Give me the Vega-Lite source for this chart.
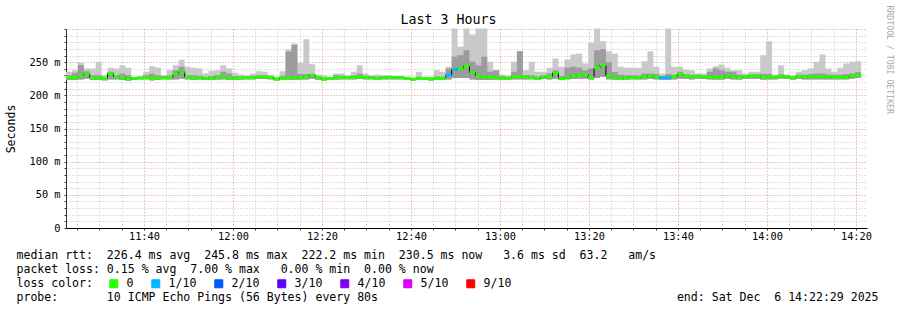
{
"$schema": "https://vega.github.io/schema/vega-lite/v6.json",
"width": 801, "height": 199,
"autosize": {"type": "none"},
"padding": {"left": 66, "top": 29, "right": 30, "bottom": 82},
"background": "white",
"config": {"view": {"stroke": null}, "font": "DejaVu Sans Mono"},
"title": {"text": "Last 3 Hours", "font": "DejaVu Sans Mono", "fontSize": 13.3, "fontWeight": "normal", "color": "#000", "anchor": "middle", "frame": "group", "dx": -18, "dy": 24, "offset": 3},
"data": {"format": {"parse": {"t": "date:'%H:%M:%S'"}}, "values": [
{"t":"11:22:29","lo":223,"dk":230.4,"hi":235.4,"med":226.9,"loss":"0"},
{"t":"11:23:49","lo":223,"dk":233.9,"hi":237.9,"med":226.9,"loss":"0"},
{"t":"11:25:09","lo":224,"dk":245.5,"hi":249,"med":229.4,"loss":"0"},
{"t":"11:26:29","lo":225,"dk":236.4,"hi":240.4,"med":232.4,"loss":"0"},
{"t":"11:27:49","lo":223,"dk":230.4,"hi":240.4,"med":226.4,"loss":"0"},
{"t":"11:29:09","lo":223,"dk":230.4,"hi":250.5,"med":226.4,"loss":"0"},
{"t":"11:30:29","lo":222.5,"dk":228,"hi":230.4,"med":225.4,"loss":"0"},
{"t":"11:31:49","lo":224,"dk":235.4,"hi":241.5,"med":232.9,"loss":"0"},
{"t":"11:33:09","lo":224,"dk":230.4,"hi":240.4,"med":227.9,"loss":"0"},
{"t":"11:34:29","lo":223,"dk":232.9,"hi":245.5,"med":226.9,"loss":"0"},
{"t":"11:35:49","lo":222,"dk":230.4,"hi":241.5,"med":224.4,"loss":"0"},
{"t":"11:37:09","lo":223,"dk":227,"hi":227.9,"med":225.4,"loss":"0"},
{"t":"11:38:29","lo":224,"dk":227,"hi":227.9,"med":226.4,"loss":"0"},
{"t":"11:39:49","lo":224,"dk":230.4,"hi":235.4,"med":226.9,"loss":"0"},
{"t":"11:41:09","lo":222.5,"dk":232.9,"hi":244,"med":225.4,"loss":"0"},
{"t":"11:42:29","lo":223,"dk":230.4,"hi":242,"med":226.4,"loss":"0"},
{"t":"11:43:49","lo":224,"dk":229,"hi":230.4,"med":226.9,"loss":"0"},
{"t":"11:45:09","lo":224,"dk":230,"hi":237.9,"med":226.4,"loss":"0"},
{"t":"11:46:29","lo":224,"dk":237.9,"hi":245.5,"med":231.4,"loss":"0"},
{"t":"11:47:49","lo":225,"dk":243,"hi":253.5,"med":235.4,"loss":"0"},
{"t":"11:49:09","lo":224,"dk":230.4,"hi":243,"med":227.4,"loss":"0"},
{"t":"11:50:29","lo":223,"dk":230.4,"hi":241.5,"med":226.9,"loss":"0"},
{"t":"11:51:49","lo":223.5,"dk":229.5,"hi":240.4,"med":226.9,"loss":"0"},
{"t":"11:53:09","lo":223,"dk":228,"hi":232.9,"med":225.4,"loss":"0"},
{"t":"11:54:29","lo":223,"dk":229,"hi":236.9,"med":225.4,"loss":"0"},
{"t":"11:55:49","lo":223.5,"dk":230.4,"hi":237.9,"med":227.4,"loss":"0"},
{"t":"11:57:09","lo":224,"dk":235.4,"hi":245.5,"med":227.9,"loss":"0"},
{"t":"11:58:29","lo":223,"dk":232.9,"hi":240.4,"med":226.4,"loss":"0"},
{"t":"11:59:49","lo":223,"dk":229,"hi":233.9,"med":225.4,"loss":"0"},
{"t":"12:01:09","lo":223.5,"dk":229,"hi":231.4,"med":226.4,"loss":"0"},
{"t":"12:02:29","lo":224,"dk":229,"hi":230.4,"med":226.9,"loss":"0"},
{"t":"12:03:49","lo":224,"dk":229.5,"hi":232.9,"med":226.9,"loss":"0"},
{"t":"12:05:09","lo":224.5,"dk":230.4,"hi":236.4,"med":227.9,"loss":"0"},
{"t":"12:06:29","lo":224.5,"dk":230.4,"hi":235.4,"med":227.9,"loss":"0"},
{"t":"12:07:49","lo":224,"dk":229,"hi":231.4,"med":226.9,"loss":"0"},
{"t":"12:09:09","lo":222.2,"dk":226.5,"hi":227.9,"med":224.4,"loss":"0"},
{"t":"12:10:29","lo":223.5,"dk":229.5,"hi":236.4,"med":226.4,"loss":"0"},
{"t":"12:11:49","lo":223.5,"dk":266,"hi":269.6,"med":226.9,"loss":"0"},
{"t":"12:13:09","lo":223,"dk":276,"hi":278.1,"med":226.4,"loss":"0"},
{"t":"12:14:29","lo":223.5,"dk":232,"hi":249,"med":226.9,"loss":"0"},
{"t":"12:15:49","lo":224,"dk":232,"hi":284.6,"med":227.9,"loss":"0"},
{"t":"12:17:09","lo":225,"dk":232,"hi":247,"med":230.4,"loss":"0"},
{"t":"12:18:29","lo":223,"dk":229,"hi":231.4,"med":226.9,"loss":"0"},
{"t":"12:19:49","lo":222.3,"dk":227,"hi":230.4,"med":224.4,"loss":"0"},
{"t":"12:21:09","lo":223,"dk":227,"hi":227.9,"med":225.4,"loss":"0"},
{"t":"12:22:29","lo":223.5,"dk":230.4,"hi":232.9,"med":226.9,"loss":"0"},
{"t":"12:23:49","lo":224,"dk":229.5,"hi":232.9,"med":226.9,"loss":"0"},
{"t":"12:25:09","lo":224,"dk":229,"hi":230.4,"med":226.9,"loss":"0"},
{"t":"12:26:29","lo":224,"dk":230,"hi":235.4,"med":226.9,"loss":"0"},
{"t":"12:27:49","lo":224.5,"dk":232.9,"hi":245.5,"med":227.9,"loss":"0"},
{"t":"12:29:09","lo":224,"dk":229.5,"hi":232.9,"med":226.9,"loss":"0"},
{"t":"12:30:29","lo":224,"dk":229,"hi":230.4,"med":226.9,"loss":"0"},
{"t":"12:31:49","lo":223,"dk":228,"hi":231.4,"med":225.4,"loss":"0"},
{"t":"12:33:09","lo":224,"dk":229,"hi":230.4,"med":226.9,"loss":"0"},
{"t":"12:34:29","lo":224,"dk":228.5,"hi":230.4,"med":226.9,"loss":"0"},
{"t":"12:35:49","lo":224,"dk":228.5,"hi":229.4,"med":226.9,"loss":"0"},
{"t":"12:37:09","lo":224,"dk":227.5,"hi":227.9,"med":226.9,"loss":"0"},
{"t":"12:38:29","lo":223,"dk":227,"hi":227.9,"med":225.4,"loss":"0"},
{"t":"12:39:49","lo":222.4,"dk":225.5,"hi":226.4,"med":224.4,"loss":"0"},
{"t":"12:41:09","lo":223,"dk":228,"hi":235.4,"med":225.4,"loss":"0"},
{"t":"12:42:29","lo":223,"dk":227,"hi":227.9,"med":225.4,"loss":"0"},
{"t":"12:43:49","lo":222.5,"dk":226.5,"hi":227.9,"med":224.4,"loss":"0"},
{"t":"12:45:09","lo":223,"dk":228.5,"hi":237.9,"med":225.4,"loss":"0"},
{"t":"12:46:29","lo":223,"dk":228,"hi":235.4,"med":225.4,"loss":"0"},
{"t":"12:47:49","lo":224,"dk":240.4,"hi":243,"med":230.4,"loss":"1/10"},
{"t":"12:49:09","lo":226,"dk":258,"hi":300.7,"med":238.9,"loss":"1/10"},
{"t":"12:50:29","lo":226,"dk":260.5,"hi":273.1,"med":240.4,"loss":"0"},
{"t":"12:51:49","lo":226,"dk":268.1,"hi":300.7,"med":244.5,"loss":"0"},
{"t":"12:53:09","lo":224,"dk":250.5,"hi":291.6,"med":234.4,"loss":"0"},
{"t":"12:54:29","lo":223,"dk":245.5,"hi":300.7,"med":228.9,"loss":"0"},
{"t":"12:55:49","lo":223,"dk":258,"hi":300.7,"med":227.9,"loss":"0"},
{"t":"12:57:09","lo":223,"dk":235.4,"hi":250.5,"med":226.9,"loss":"0"},
{"t":"12:58:29","lo":223.5,"dk":237.9,"hi":237.9,"med":226.9,"loss":"0"},
{"t":"12:59:49","lo":223.5,"dk":229,"hi":231.4,"med":226.4,"loss":"0"},
{"t":"13:01:09","lo":223,"dk":228,"hi":230.4,"med":225.4,"loss":"0"},
{"t":"13:02:29","lo":224,"dk":235.4,"hi":250.5,"med":228.4,"loss":"0"},
{"t":"13:03:49","lo":224,"dk":266.5,"hi":266.5,"med":226.9,"loss":"0"},
{"t":"13:05:09","lo":224,"dk":230.4,"hi":237.9,"med":227.9,"loss":"0"},
{"t":"13:06:29","lo":224,"dk":230.4,"hi":250.5,"med":226.9,"loss":"0"},
{"t":"13:07:49","lo":223,"dk":228.5,"hi":235.4,"med":225.4,"loss":"0"},
{"t":"13:09:09","lo":224.5,"dk":230.4,"hi":235.4,"med":227.9,"loss":"0"},
{"t":"13:10:29","lo":224,"dk":232.9,"hi":241.5,"med":227.9,"loss":"0"},
{"t":"13:11:49","lo":225,"dk":237.9,"hi":255.5,"med":233.9,"loss":"0"},
{"t":"13:13:09","lo":223,"dk":229,"hi":243,"med":225.4,"loss":"0"},
{"t":"13:14:29","lo":224,"dk":241.5,"hi":254,"med":226.9,"loss":"0"},
{"t":"13:15:49","lo":224.5,"dk":243,"hi":261.5,"med":228.9,"loss":"0"},
{"t":"13:17:09","lo":225,"dk":241.5,"hi":263,"med":230.4,"loss":"0"},
{"t":"13:18:29","lo":225,"dk":237.9,"hi":248,"med":231.4,"loss":"0"},
{"t":"13:19:49","lo":223.5,"dk":240.4,"hi":279.6,"med":226.9,"loss":"0"},
{"t":"13:21:09","lo":226,"dk":268.1,"hi":300.7,"med":241.4,"loss":"0"},
{"t":"13:22:29","lo":228,"dk":269.6,"hi":281.6,"med":245.8,"loss":"0"},
{"t":"13:23:49","lo":224,"dk":250,"hi":266.5,"med":228.9,"loss":"0"},
{"t":"13:25:09","lo":223.5,"dk":235,"hi":263,"med":226.4,"loss":"0"},
{"t":"13:26:29","lo":223,"dk":231,"hi":243,"med":225.4,"loss":"0"},
{"t":"13:27:49","lo":223.5,"dk":230.4,"hi":241.5,"med":226.4,"loss":"0"},
{"t":"13:29:09","lo":224,"dk":230.4,"hi":241.5,"med":226.9,"loss":"0"},
{"t":"13:30:29","lo":224,"dk":230,"hi":241.5,"med":226.4,"loss":"0"},
{"t":"13:31:49","lo":224,"dk":233,"hi":251.5,"med":227.9,"loss":"0"},
{"t":"13:33:09","lo":224.5,"dk":233,"hi":266.5,"med":229.4,"loss":"0"},
{"t":"13:34:29","lo":224,"dk":232,"hi":243,"med":227.9,"loss":"0"},
{"t":"13:35:49","lo":223.5,"dk":229,"hi":232.9,"med":226.4,"loss":"1/10"},
{"t":"13:37:09","lo":223.5,"dk":232,"hi":300.7,"med":226.4,"loss":"1/10"},
{"t":"13:38:29","lo":224,"dk":231,"hi":243,"med":227.9,"loss":"0"},
{"t":"13:39:49","lo":225,"dk":235.4,"hi":243,"med":231.9,"loss":"0"},
{"t":"13:41:09","lo":224.5,"dk":232,"hi":239,"med":229.4,"loss":"0"},
{"t":"13:42:29","lo":224,"dk":231,"hi":237.9,"med":227.9,"loss":"0"},
{"t":"13:43:49","lo":225,"dk":230.4,"hi":232.9,"med":228.9,"loss":"0"},
{"t":"13:45:09","lo":224.5,"dk":230,"hi":232.9,"med":227.9,"loss":"0"},
{"t":"13:46:29","lo":224,"dk":235.4,"hi":240.4,"med":227.9,"loss":"0"},
{"t":"13:47:49","lo":223.5,"dk":240.4,"hi":244,"med":226.9,"loss":"0"},
{"t":"13:49:09","lo":223.5,"dk":237.9,"hi":246.5,"med":226.9,"loss":"0"},
{"t":"13:50:29","lo":224.5,"dk":235.4,"hi":241.5,"med":229.4,"loss":"0"},
{"t":"13:51:49","lo":224,"dk":235.4,"hi":237.9,"med":227.9,"loss":"0"},
{"t":"13:53:09","lo":223.5,"dk":231,"hi":237.9,"med":226.9,"loss":"0"},
{"t":"13:54:29","lo":224.5,"dk":230,"hi":232.9,"med":227.9,"loss":"0"},
{"t":"13:55:49","lo":225,"dk":231.5,"hi":235.4,"med":229.4,"loss":"0"},
{"t":"13:57:09","lo":225,"dk":231.5,"hi":235.4,"med":229.4,"loss":"0"},
{"t":"13:58:29","lo":223.5,"dk":232,"hi":260.5,"med":226.9,"loss":"0"},
{"t":"13:59:49","lo":224,"dk":232,"hi":281.6,"med":227.9,"loss":"0"},
{"t":"14:01:09","lo":224,"dk":229.5,"hi":231.4,"med":226.9,"loss":"0"},
{"t":"14:02:29","lo":225,"dk":231,"hi":245.5,"med":229.4,"loss":"0"},
{"t":"14:03:49","lo":224.5,"dk":229.5,"hi":231.4,"med":227.9,"loss":"0"},
{"t":"14:05:09","lo":223.5,"dk":228.5,"hi":229.4,"med":226.4,"loss":"0"},
{"t":"14:06:29","lo":224.5,"dk":231,"hi":235.4,"med":228.9,"loss":"0"},
{"t":"14:07:49","lo":224,"dk":231,"hi":237.9,"med":227.9,"loss":"0"},
{"t":"14:09:09","lo":224,"dk":232,"hi":240.4,"med":227.9,"loss":"0"},
{"t":"14:10:29","lo":224,"dk":233,"hi":250.5,"med":227.9,"loss":"0"},
{"t":"14:11:49","lo":224,"dk":233,"hi":261.5,"med":227.9,"loss":"0"},
{"t":"14:13:09","lo":224,"dk":231.5,"hi":240.4,"med":227.9,"loss":"0"},
{"t":"14:14:29","lo":224,"dk":231,"hi":235.4,"med":227.9,"loss":"0"},
{"t":"14:15:49","lo":224,"dk":231,"hi":241.5,"med":226.9,"loss":"0"},
{"t":"14:17:09","lo":224,"dk":232,"hi":248,"med":226.9,"loss":"0"},
{"t":"14:18:29","lo":225,"dk":233,"hi":250.5,"med":229.4,"loss":"0"},
{"t":"14:19:49","lo":226,"dk":235,"hi":251.5,"med":230.5,"loss":"0"},
{"t":"14:21:09","lo":226,"dk":235,"hi":251.5,"med":230.5,"loss":"0"}
]},
"layer": [
{"mark": {"type": "area", "interpolate": "step-after", "color": "#c9c9c9", "opacity": 1},
 "encoding": {
  "x": {"field": "t", "type": "temporal",
   "scale": {"domain": [{"year":1900,"month":1,"date":1,"hours":11,"minutes":22,"seconds":29},{"year":1900,"month":1,"date":1,"hours":14,"minutes":22,"seconds":29}], "nice": false},
   "axis": {
    "title": ["median rtt:\u00a0\u00a0226.4 ms avg\u00a0\u00a0245.8 ms max\u00a0\u00a0222.2 ms min\u00a0\u00a0230.5 ms now\u00a0\u00a0\u00a03.6 ms sd\u00a0\u00a063.2\u00a0\u00a0\u00a0am/s",
              "packet loss: 0.15 % avg\u00a0\u00a07.00 % max\u00a0\u00a0\u00a00.00 % min\u00a0\u00a00.00 % now",
              "loss color:",
              "probe:\u00a0\u00a0\u00a0\u00a0\u00a0\u00a0\u00a010 ICMP Echo Pings (56 Bytes) every 80s\u00a0\u00a0\u00a0\u00a0\u00a0\u00a0\u00a0\u00a0\u00a0\u00a0\u00a0\u00a0\u00a0\u00a0\u00a0\u00a0\u00a0\u00a0\u00a0\u00a0\u00a0\u00a0\u00a0\u00a0\u00a0\u00a0\u00a0\u00a0\u00a0\u00a0\u00a0\u00a0\u00a0\u00a0\u00a0\u00a0\u00a0\u00a0\u00a0\u00a0\u00a0\u00a0\u00a0end: Sat Dec\u00a0\u00a06 14:22:29 2025"],
    "titleFont": "DejaVu Sans Mono", "titleFontSize": 11.56, "titleFontWeight": "normal", "titleColor": "#000",
    "titleAnchor": "start", "titleAlign": "left", "titleBaseline": "alphabetic", "titleX": -50, "titleY": 30, "titleLineHeight": 14.3,
    "tickCount": 36,
    "labelExpr": "minutes(datum.value) % 20 == 0 ? timeFormat(datum.value, '%H:%M') : ''",
    "labelOverlap": false, "labelFlush": false, "labelFont": "DejaVu Sans Mono", "labelFontSize": 10.3, "labelColor": "#000", "labelPadding": 1,
    "grid": true, "gridDash": [1, 2],
    "gridColor": {"condition": {"test": "minutes(datum.value) % 20 == 0", "value": "#e88a8a"}, "value": "#c4c4c4"},
    "tickColor": "#333", "tickSize": 2, "domainColor": "#000"
   }},
  "y": {"field": "lo", "type": "quantitative", "scale": {"domain": [0, 300], "nice": false},
   "axis": {"orient": "left", "tickCount": 30,
    "labelExpr": "(datum.value % 50 == 0 && datum.value < 300) ? (datum.value == 0 ? '0' : datum.value + ' m') : ''",
    "labelOverlap": false, "labelFont": "DejaVu Sans Mono", "labelFontSize": 10.3, "labelColor": "#000", "labelPadding": 4,
    "grid": true, "gridDash": [1, 2],
    "gridColor": {"condition": {"test": "datum.value % 50 == 0", "value": "#e88a8a"}, "value": "#c4c4c4"},
    "tickColor": "#333", "tickSize": 2, "domain": true, "domainColor": "#333",
    "title": "Seconds", "titleFont": "DejaVu Sans Mono", "titleFontSize": 11.56, "titleFontWeight": "normal", "titleColor": "#000", "titlePadding": 13}},
  "y2": {"field": "hi"}
 }},
{"mark": {"type": "area", "interpolate": "step-after", "color": "#9c9c9c", "opacity": 1},
 "encoding": {
  "x": {"field": "t", "type": "temporal"},
  "y": {"field": "lo", "type": "quantitative", "axis": null},
  "y2": {"field": "dk"}
 }},
{"mark": {"type": "line", "interpolate": "step-after", "color": "#000", "strokeWidth": 1},
 "encoding": {
  "x": {"field": "t", "type": "temporal"},
  "y": {"field": "med", "type": "quantitative",
   "axis": {"orient": "right", "labels": false, "ticks": false, "domain": false, "grid": false,
    "title": "RRDTOOL / TOBI OETIKER", "titleAngle": 90, "titleAlign": "left", "titleBaseline": "middle",
    "titleX": 21, "titleY": -24, "titleFont": "DejaVu Sans Mono", "titleFontSize": 8.2, "titleFontWeight": "normal", "titleColor": "#aaaaaa"}}
 }},
{"transform": [{"window": [{"op": "lead", "field": "t", "as": "t2"}], "sort": [{"field": "t"}]}, {"filter": "datum.t2 != null"}],
 "mark": {"type": "rule", "strokeWidth": 3, "opacity": 1},
 "encoding": {
  "x": {"field": "t", "type": "temporal"},
  "x2": {"field": "t2"},
  "y": {"field": "med", "type": "quantitative", "axis": null},
  "color": {"field": "loss", "type": "nominal",
   "scale": {"domain": ["0","1/10","2/10","3/10","4/10","5/10","9/10"], "range": ["#26ff00","#00b8ff","#0059ff","#5e00ff","#7e00ff","#dd00ff","#ff0000"]},
   "legend": {"orient": "none", "legendX": 42, "legendY": 249, "direction": "horizontal", "columns": 7, "title": null,
    "symbolType": "square", "symbolSize": 64, "symbolStrokeWidth": 1, "symbolOpacity": 1,
    "labelFont": "DejaVu Sans Mono", "labelFontSize": 11.56, "labelColor": "#000", "labelOffset": 7,
    "columnPadding": 15, "gridAlign": "none", "padding": 0,
    "encode": {"symbols": {"update": {"fill": {"scale": "color", "field": "value"}, "stroke": {"value": "#000"}, "strokeWidth": {"value": 1}, "opacity": {"value": 1}}}}}
  }
 }}
],
"resolve": {"axis": {"y": "independent"}}
}
